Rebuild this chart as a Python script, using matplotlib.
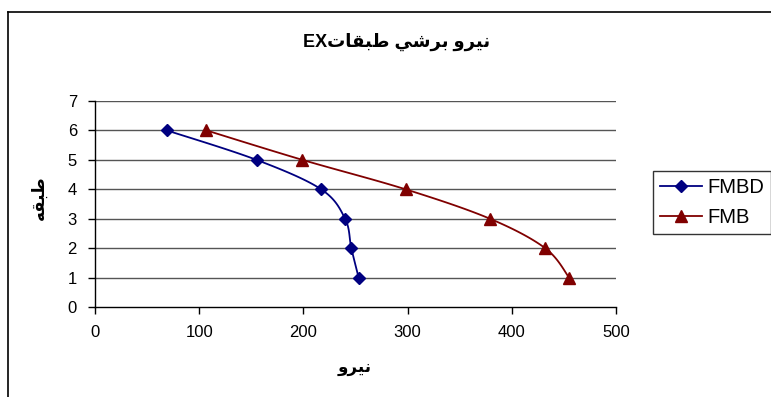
import numpy as np
import matplotlib
matplotlib.use('Agg')
import matplotlib.pyplot as plt
from matplotlib.lines import Line2D

plt.rcParams['font.family'] = ['Liberation Sans', 'DejaVu Sans']

# ---------------- data ----------------
stories = [6, 5, 4, 3, 2, 1]
fmbd = [69, 155, 217, 240, 246, 253]
fmb = [107, 199, 298, 379, 432, 455]

# Arabic labels written in visual order with presentation forms
title_txt = 'EX' + '\uFE95\uFE8E\uFED8\uFE92\uFEC3' + ' ' + '\uFEF2\uFEB7\uFEAE\uFE91' + ' ' + '\uFEED\uFEAE\uFEF4\uFEE7'
xlabel_txt = '\uFEED\uFEAE\uFEF4\uFEE7'
ylabel_txt = '\uFEEA\uFED8\uFE92\uFEC3'


def smooth(x, y, n=24):
    # Catmull-Rom curve through the points (like a smoothed line in a spreadsheet)
    p = np.column_stack([x, y]).astype(float)
    p = np.vstack([p[0], p, p[-1]])
    out = []
    t = np.linspace(0, 1, n)[:, None]
    for i in range(1, len(p) - 2):
        p0, p1, p2, p3 = p[i - 1], p[i], p[i + 1], p[i + 2]
        seg = 0.5 * ((2 * p1) + (-p0 + p2) * t + (2 * p0 - 5 * p1 + 4 * p2 - p3) * t ** 2
                     + (-p0 + 3 * p1 - 3 * p2 + p3) * t ** 3)
        out.append(seg)
    c = np.vstack(out)
    return c[:, 0], c[:, 1]


fig = plt.figure(figsize=(7.71, 3.97), dpi=100)
W, H = 771, 397
ax = fig.add_axes([95 / W, 1 - 307 / H, 521 / W, 206 / H])

for yv in range(1, 8):
    ax.axhline(yv, color='#555555', lw=1, zorder=0)

sx, sy = smooth(fmbd, stories)
ax.plot(sx, sy, color='#000080', lw=1.3)
ax.plot(fmbd, stories, ls='none', marker='D', ms=6, color='#000080')
sx, sy = smooth(fmb, stories)
ax.plot(sx, sy, color='#800000', lw=1.3)
ax.plot(fmb, stories, ls='none', marker='^', ms=8, color='#800000')

ax.set_xlim(0, 500)
ax.set_ylim(0, 7)
ax.set_xticks(range(0, 501, 100))
ax.set_yticks(range(0, 8))
for s in ['top', 'right']:
    ax.spines[s].set_visible(False)
for s in ['left', 'bottom']:
    ax.spines[s].set_color('black')
    ax.spines[s].set_linewidth(1)
ax.tick_params(direction='out', length=5, width=1, labelsize=12, pad=8)

# legend proxies carry both line and marker
h1 = Line2D([], [], color='#000080', lw=1.3, marker='D', ms=6)
h2 = Line2D([], [], color='#800000', lw=1.3, marker='^', ms=8)
leg = fig.legend([h1, h2], ['FMBD', 'FMB'], loc='upper left',
                 bbox_to_anchor=(653 / W, 1 - 171 / H), borderaxespad=0,
                 fontsize=14.5, frameon=True, fancybox=False, handlelength=2.1,
                 handletextpad=0.25, borderpad=0.35, labelspacing=0.55)
leg.get_frame().set_edgecolor('black')
leg.get_frame().set_linewidth(1)

fig.text(397 / W, 1 - 42 / H, title_txt, ha='center', va='center',
         fontsize=13, fontweight='bold')
fig.text(355 / W, 1 - 368 / H, xlabel_txt, ha='center', va='center',
         fontsize=12, fontweight='bold')
fig.text(39 / W, 1 - 198 / H, ylabel_txt, ha='center', va='center',
         fontsize=12, fontweight='bold', rotation=90)

# chart area border
fig.add_artist(Line2D([8 / W, 8 / W], [0, 1 - 12 / H], color='black', lw=1.2))
fig.add_artist(Line2D([8 / W, 1], [1 - 12 / H, 1 - 12 / H], color='black', lw=1.2))

fig.savefig('out.png', dpi=100)
